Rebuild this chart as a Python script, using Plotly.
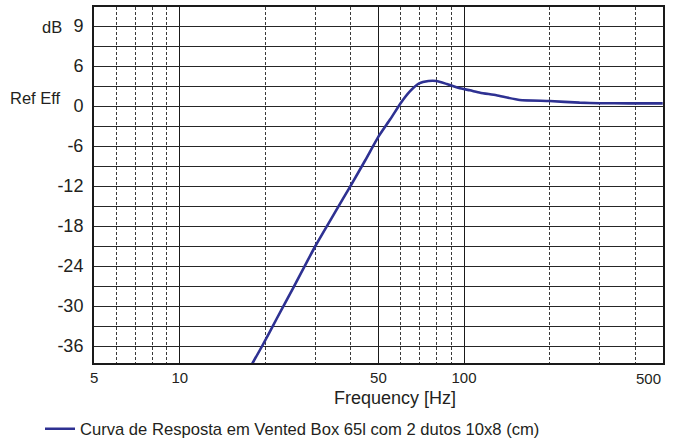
import math
import plotly.graph_objects as go

# ---- data ----
freq_hz = [17, 19.5, 22, 25, 30, 35, 40, 45, 50, 55, 60, 64.5, 69.5, 75, 80, 87,
           96, 105, 114, 130, 157, 200, 255, 300, 380, 500]
response_db = [-40.5, -36.0, -31.8, -27.4, -21.0, -16.1, -11.9, -8.1, -4.6, -2.0,
               0.5, 2.2, 3.4, 3.75, 3.75, 3.3, 2.7, 2.35, 2.0, 1.6, 0.9, 0.75,
               0.5, 0.42, 0.4, 0.4]
series_name = "Curva de Resposta em Vented Box 65l com 2 dutos 10x8 (cm)"

x_major_vals = [5, 10, 50, 100]
x_major_text = ["5", "10", "50", "100"]
x_end_val = 500
x_end_text = "500"
x_minor_vals = [6, 7, 8, 9, 20, 30, 40, 60, 70, 80, 90, 200, 300, 400]

y_tick_vals = [12, 9, 6, 3, 0, -3, -6, -9, -12, -15, -18, -21, -24, -27, -30, -33, -36]
y_tick_text = ["9", "", "6", "", "0", "", "-6", "", "-12", "", "-18", "", "-24", "",
               "-30", "", "-36"]

FONT = "Liberation Sans, Arial, sans-serif"
TEXT_COLOR = "#231F20"
LINE_COLOR = "#2E3192"

fig = go.Figure()
fig.add_trace(go.Scatter(
    x=freq_hz, y=response_db, mode="lines", name=series_name,
    line=dict(color=LINE_COLOR, width=2.6, shape="spline", smoothing=0.5),
    showlegend=True,
))

fig.update_layout(
    width=680, height=439,
    margin=dict(l=94, r=17, t=7, b=76, autoexpand=False),
    paper_bgcolor="white", plot_bgcolor="white",
    font=dict(family=FONT, color=TEXT_COLOR),
    showlegend=True,
    legend=dict(
        orientation="h", xref="container", yref="container",
        x=40 / 680, y=1 - 429 / 439, xanchor="left", yanchor="middle",
        font=dict(size=16.6, family=FONT, color=TEXT_COLOR),
        bgcolor="rgba(0,0,0,0)", borderwidth=0,
    ),
)

fig.update_xaxes(
    type="log", automargin=False,
    range=[math.log10(5) - 0.0005, math.log10(500) + 0.001],
    tickmode="array", tickvals=x_major_vals, ticktext=x_major_text,
    tickfont=dict(size=15, family=FONT, color=TEXT_COLOR),
    ticks="", ticklabelstandoff=0,
    showgrid=True, gridcolor="#1a1a1a", gridwidth=1.4,
    minor=dict(tickmode="array", tickvals=x_minor_vals, showgrid=True,
               gridcolor="#3a3a3a", gridwidth=1, griddash="3px,2px", ticks=""),
    showline=True, linecolor="#1a1a1a", linewidth=2, mirror=True,
    zeroline=False,
)

fig.update_yaxes(
    range=[-38.55, 14.85], automargin=False,
    tickmode="array", tickvals=y_tick_vals, ticktext=y_tick_text,
    tickfont=dict(size=18, family=FONT, color=TEXT_COLOR),
    ticks="", ticklabelstandoff=5,
    showgrid=True, gridcolor="#262626", gridwidth=1.4,
    showline=True, linecolor="#1a1a1a", linewidth=2, mirror=True,
    zeroline=False,
)

# end label of the frequency axis, right-aligned at its tick like the reference
fig.add_annotation(text=x_end_text, xref="x", yref="paper",
                   x=math.log10(x_end_val), y=-(378 - 363) / 356,
                   xanchor="right", yanchor="middle", showarrow=False,
                   font=dict(size=15, family=FONT, color=TEXT_COLOR))
# x-axis title (placed as in the reference, right of the plot centre)
fig.add_annotation(text="Frequency [Hz]", xref="paper", yref="paper",
                   x=(395 - 94) / 569, y=-(398 - 363) / 356,
                   xanchor="center", yanchor="middle", showarrow=False,
                   font=dict(size=18, family=FONT, color=TEXT_COLOR))
fig.add_annotation(text="dB", xref="paper", yref="paper", x=-0.052, y=0.944,
                   xanchor="right", yanchor="middle", showarrow=False,
                   font=dict(size=16.5, family=FONT, color=TEXT_COLOR))
fig.add_annotation(text="Ref Eff", xref="paper", yref="paper", x=-0.055, y=0.744,
                   xanchor="right", yanchor="middle", showarrow=False,
                   font=dict(size=16.5, family=FONT, color=TEXT_COLOR))

fig.write_html(
    "out.html",
    config={"displayModeBar": False},
    post_script="document.body.style.margin='0';document.body.style.overflow='hidden';",
)
